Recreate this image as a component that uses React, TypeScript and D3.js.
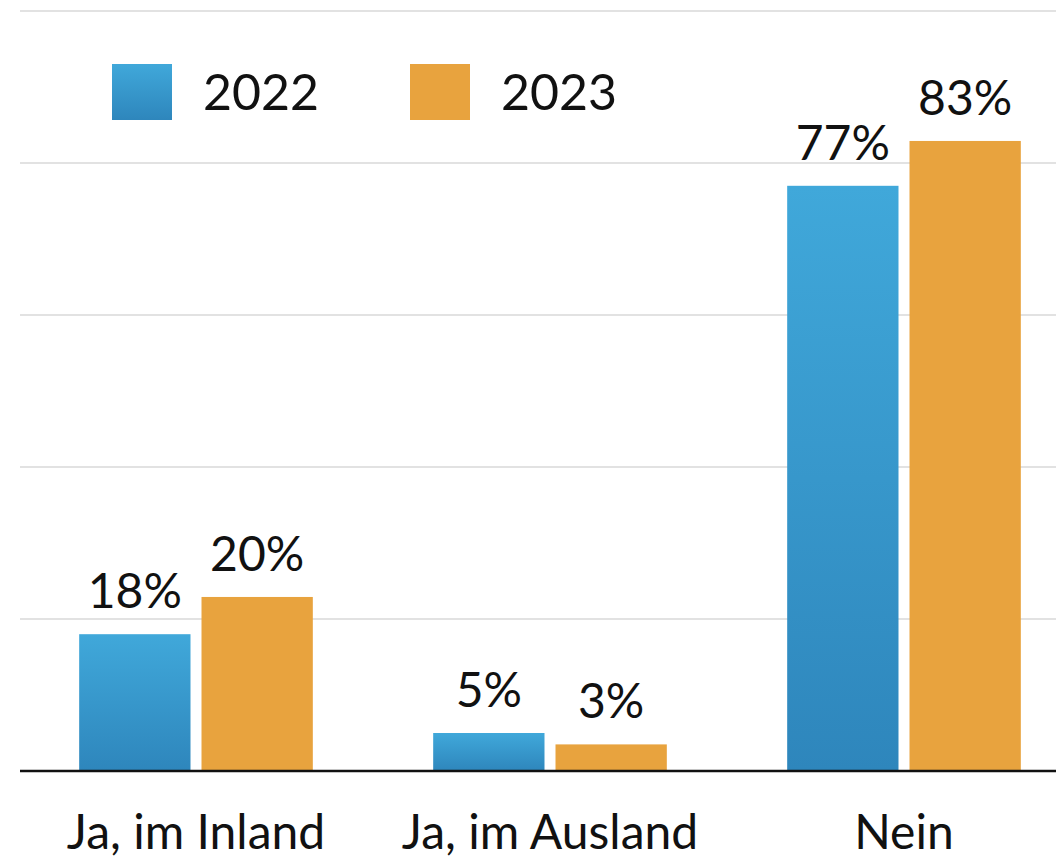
import React, { useEffect, useRef } from 'react';
import * as d3 from 'd3';

const categories = ['Ja, im Inland', 'Ja, im Ausland', 'Nein'];
const years = ['2022', '2023'];
const values2022 = [18, 5, 77];
const values2023 = [22.9, 3.5, 82.9];
const labels2022 = ['18%', '5%', '77%'];
const labels2023 = ['20%', '3%', '83%'];
const gridTicks = [0, 20, 40, 60, 80, 100];

const W = 1056;
const H = 856;
const FONT = 'Lato, "Open Sans", sans-serif';

export default function App() {
  const ref = useRef<SVGSVGElement>(null);

  useEffect(() => {
    const svg = d3.select(ref.current);
    svg.selectAll('*').remove();

    const defs = svg.append('defs');
    const grad = defs.append('linearGradient')
      .attr('id', 'blueGrad')
      .attr('x1', 0).attr('y1', 0).attr('x2', 0).attr('y2', 1);
    grad.append('stop').attr('offset', '0%').attr('stop-color', '#40a8da');
    grad.append('stop').attr('offset', '100%').attr('stop-color', '#2e86bc');

    const colors = ['url(#blueGrad)', '#e8a33e'];
    const series = [values2022, values2023];
    const labels = [labels2022, labels2023];

    const y = d3.scaleLinear().domain([0, 100]).range([771, 11]);
    const x0 = d3.scaleBand().domain(categories).range([19, 1081])
      .paddingInner(0.34).paddingOuter(0.17);
    const x1 = d3.scaleBand().domain(years).range([0, x0.bandwidth()])
      .paddingInner(0.09);

    // gridlines
    svg.append('g').selectAll('line')
      .data(gridTicks.slice(1))
      .enter().append('line')
      .attr('x1', 20).attr('x2', W)
      .attr('y1', d => y(d)).attr('y2', d => y(d))
      .attr('stroke', '#d9d9d9').attr('stroke-width', 1.5);

    // bars + value labels
    years.forEach((yr, s) => {
      const g = svg.append('g');
      g.selectAll('rect').data(series[s]).enter().append('rect')
        .attr('x', (d, i) => (x0(categories[i]) as number) + (x1(yr) as number))
        .attr('y', d => y(d))
        .attr('width', x1.bandwidth())
        .attr('height', d => y(0) - y(d))
        .attr('fill', colors[s]);
      g.selectAll('text').data(series[s]).enter().append('text')
        .attr('x', (d, i) => (x0(categories[i]) as number) + (x1(yr) as number) + x1.bandwidth() / 2)
        .attr('y', d => y(d) - 26)
        .attr('text-anchor', 'middle')
        .style('font-family', FONT).style('font-size', '48px')
        .attr('fill', '#111')
        .text((d, i) => labels[s][i]);
    });

    // baseline
    svg.append('line')
      .attr('x1', 20).attr('x2', W)
      .attr('y1', y(0)).attr('y2', y(0))
      .attr('stroke', '#111').attr('stroke-width', 2.5);

    // category labels
    svg.append('g').selectAll('text').data(categories).enter().append('text')
      .attr('x', d => (x0(d) as number) + x0.bandwidth() / 2)
      .attr('y', 849)
      .attr('text-anchor', 'middle')
      .style('font-family', FONT).style('font-size', '48px')
      .attr('fill', '#111')
      .text(d => d);

    // legend
    const legendX = [112, 410];
    const lg = svg.append('g').selectAll('g').data(years).enter().append('g')
      .attr('transform', (d, i) => `translate(${legendX[i]},64)`);
    lg.append('rect').attr('width', 60).attr('height', 56)
      .attr('fill', (d, i) => colors[i]);
    lg.append('text').attr('x', 91).attr('y', 46)
      .style('font-family', FONT).style('font-size', '50px')
      .attr('fill', '#111')
      .text(d => d);
  }, []);

  return (
    <svg ref={ref} width={W} height={H}
      style={{ position: 'absolute', left: 0, top: 0, background: '#fff' }} />
  );
}
